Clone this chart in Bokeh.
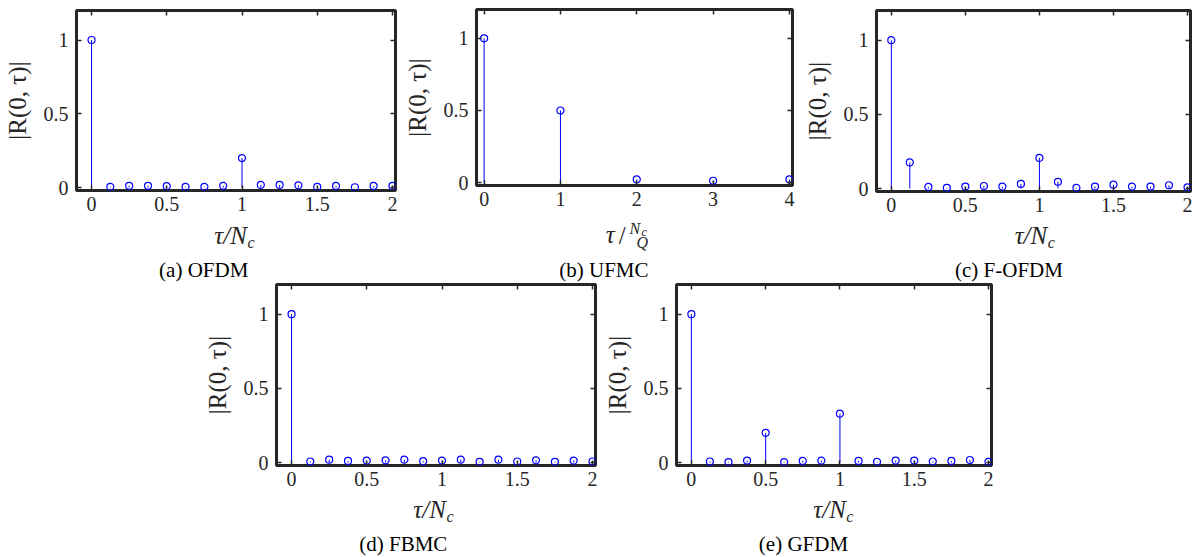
from bokeh.plotting import figure
from bokeh.layouts import column, row
from bokeh.models import (Range1d, FixedTicker, LinearAxis, Spacer,
                          CustomJSTickFormatter)
from bokeh.core.properties import value
from bokeh.embed import file_html
from bokeh.resources import INLINE

# ---------------- data ----------------
tau_nc = [0, 0.125, 0.25, 0.375, 0.5, 0.625, 0.75, 0.875, 1,
          1.125, 1.25, 1.375, 1.5, 1.625, 1.75, 1.875, 2]
tau_q = [0, 1, 2, 3, 4]

ofdm = [1.0, 0.005, 0.012, 0.012, 0.009, 0.005, 0.005, 0.012, 0.2,
        0.018, 0.018, 0.015, 0.005, 0.011, 0.002, 0.011, 0.011]
ufmc = [1.0, 0.5, 0.022, 0.013, 0.022]
fofdm = [1.0, 0.176, 0.011, 0.005, 0.013, 0.017, 0.013, 0.031, 0.206,
         0.045, 0.005, 0.013, 0.026, 0.013, 0.013, 0.022, 0.008]
fbmc = [1.0, 0.007, 0.019, 0.011, 0.013, 0.015, 0.019, 0.009, 0.013,
        0.019, 0.005, 0.019, 0.007, 0.015, 0.005, 0.013, 0.007]
gfdm = [1.0, 0.007, 0.003, 0.013, 0.2, 0.003, 0.011, 0.013, 0.329,
        0.011, 0.005, 0.013, 0.013, 0.007, 0.011, 0.017, 0.005]

yticks = [0, 0.5, 1]
xticks_nc = [0, 0.5, 1, 1.5, 2]
xticks_q = [0, 1, 2, 3, 4]
captions = ["(a) OFDM", "(b) UFMC", "(c) F-OFDM", "(d) FBMC", "(e) GFDM"]
ylabel = "|R(0, τ)|"

# ---------------- style ----------------
BLUE = "#0000ff"
AX = "#262626"
SERIF = "Liberation Serif"
MID = 0.3375          # baseline offset of a middle-anchored line (em)


def panel(x, y, xticks, xr, width, height, left, top, fw, fh):
    p = figure(width=width, height=height,
               x_range=Range1d(*xr), y_range=Range1d(-0.02, 1.2),
               output_backend="svg", toolbar_location=None,
               min_border_left=left, min_border_top=top,
               min_border_right=width - left - fw,
               min_border_bottom=height - top - fh)
    p.grid.visible = False
    p.outline_line_color = AX
    p.outline_line_width = 3
    p.background_fill_color = "white"
    p.border_fill_color = "white"

    num = CustomJSTickFormatter(code="return String(tick)")
    blank = CustomJSTickFormatter(code="return ''")

    for ax, ticks in ((p.xaxis[0], xticks), (p.yaxis[0], yticks)):
        ax.ticker = FixedTicker(ticks=ticks)
        ax.formatter = num
        ax.axis_line_color = None
        ax.major_tick_in = 5
        ax.major_tick_out = 0
        ax.major_tick_line_color = AX
        ax.major_tick_line_width = 1.5
        ax.minor_tick_line_color = None
        ax.major_label_text_font = SERIF
        ax.major_label_text_font_size = "20px"
        ax.major_label_text_color = AX
        ax.major_label_standoff = 8
    p.xaxis[0].major_label_standoff = 6

    p.yaxis[0].axis_label = ylabel
    p.yaxis[0].axis_label_text_font = SERIF
    p.yaxis[0].axis_label_text_font_size = "25px"
    p.yaxis[0].axis_label_text_font_style = "normal"
    p.yaxis[0].axis_label_text_color = AX
    p.yaxis[0].axis_label_standoff = 10

    for loc, ticks in (("above", xticks), ("right", yticks)):
        ax = LinearAxis(ticker=FixedTicker(ticks=ticks), formatter=blank,
                        major_label_text_font_size="0px",
                        major_label_standoff=0, axis_line_color=None,
                        major_tick_in=5, major_tick_out=0,
                        major_tick_line_color=AX, major_tick_line_width=1.5,
                        minor_tick_line_color=None)
        p.add_layout(ax, loc)

    p.segment(x0=x, y0=[0] * len(x), x1=x, y1=y, line_color=BLUE,
              line_width=1)
    p.scatter(x=x, y=y, marker="circle", size=7, fill_color=None,
              line_color=BLUE, line_width=1.2)
    return p


def text_fig(width, height, left, fw, x_abs, y_abs):
    """Strip under a panel for its x label and caption.  Its frame has the
    same left/right borders as the panel above it (the column aligns them);
    its ranges are in absolute page pixels, y pointing down."""
    tf = figure(width=width, height=height,
                x_range=Range1d(x_abs + left, x_abs + left + fw),
                y_range=Range1d(y_abs + height, y_abs),
                output_backend="svg", toolbar_location=None,
                x_axis_type=None, y_axis_type=None,
                min_border_left=left, min_border_right=width - left - fw,
                min_border_top=0, min_border_bottom=0, title=None)
    tf.outline_line_color = None
    tf.background_fill_color = "white"
    tf.border_fill_color = "white"
    return tf


def put(tf, text, x, base, size, style="normal", align="left", color="black"):
    tf.text(x=[x], y=[base - MID * size], text=[text], text_font=value(SERIF),
            text_font_size=value(f"{size}px"), text_font_style=style,
            text_align=align, text_baseline="middle", text_color=color)


def xlabel_nc(tf, center, base):
    put(tf, "τ/N", center + 14, base, 25, "italic", "right", AX)
    put(tf, "c", center + 14.5, base + 4.5, 16, "italic", "left", AX)


TOP_H, BOT_H = 282, 275
TOP_MAIN, BOT_MAIN = 220, 214

# (a) OFDM, canvas at (0, 0)
pa = panel(tau_nc, ofdm, xticks_nc, (-0.1, 2.02), 400, TOP_MAIN, 74, 10, 321, 180)
ta = text_fig(400, TOP_H - TOP_MAIN, 74, 321, 0, TOP_MAIN)
xlabel_nc(ta, 231.5, 243)
put(ta, captions[0], 202, 277, 21, "normal", "center")

# (b) UFMC, canvas at (400, 0)
pb = panel(tau_q, ufmc, xticks_q, (-0.1, 4.04), 400, TOP_MAIN, 72, 9, 320, 176)
tb = text_fig(400, TOP_H - TOP_MAIN, 72, 320, 400, TOP_MAIN)
put(tb, "τ", 603, 242, 25, "italic", "left", AX)
put(tb, "/", 616, 243, 25, "normal", "left", AX)
put(tb, "N", 627, 233, 16, "italic", "left", AX)
put(tb, "c", 639, 235.5, 12, "italic", "left", AX)
put(tb, "Q", 640, 247, 16, "italic", "center", AX)
put(tb, captions[1], 601, 277, 21, "normal", "center")

# (c) F-OFDM, canvas at (800, 0)
pc = panel(tau_nc, fofdm, xticks_nc, (-0.1, 2.02), 401, TOP_MAIN, 70, 10, 320, 181)
tc = text_fig(401, TOP_H - TOP_MAIN, 70, 320, 800, TOP_MAIN)
xlabel_nc(tc, 1030, 243)
put(tc, captions[2], 1005, 277, 21, "normal", "center")

# (d) FBMC, canvas at (200, 282)
pd = panel(tau_nc, fbmc, xticks_nc, (-0.1, 2.02), 400, BOT_MAIN, 73, 2, 322, 181)
td = text_fig(400, BOT_H - BOT_MAIN, 73, 322, 200, TOP_H + BOT_MAIN)
xlabel_nc(td, 430, 517)
put(td, captions[3], 401, 551, 21, "normal", "center")

# (e) GFDM, canvas at (600, 282)
pe = panel(tau_nc, gfdm, xticks_nc, (-0.1, 2.02), 400, BOT_MAIN, 71, 2, 320, 181)
te = text_fig(400, BOT_H - BOT_MAIN, 71, 320, 600, TOP_H + BOT_MAIN)
xlabel_nc(te, 829, 517)
put(te, captions[4], 800, 551, 21, "normal", "center")

layout = column(
    row(column(pa, ta), column(pb, tb), column(pc, tc)),
    row(Spacer(width=200, height=BOT_H), column(pd, td), column(pe, te),
        Spacer(width=201, height=BOT_H)),
)

open("out.html", "w").write(file_html(layout, INLINE))
